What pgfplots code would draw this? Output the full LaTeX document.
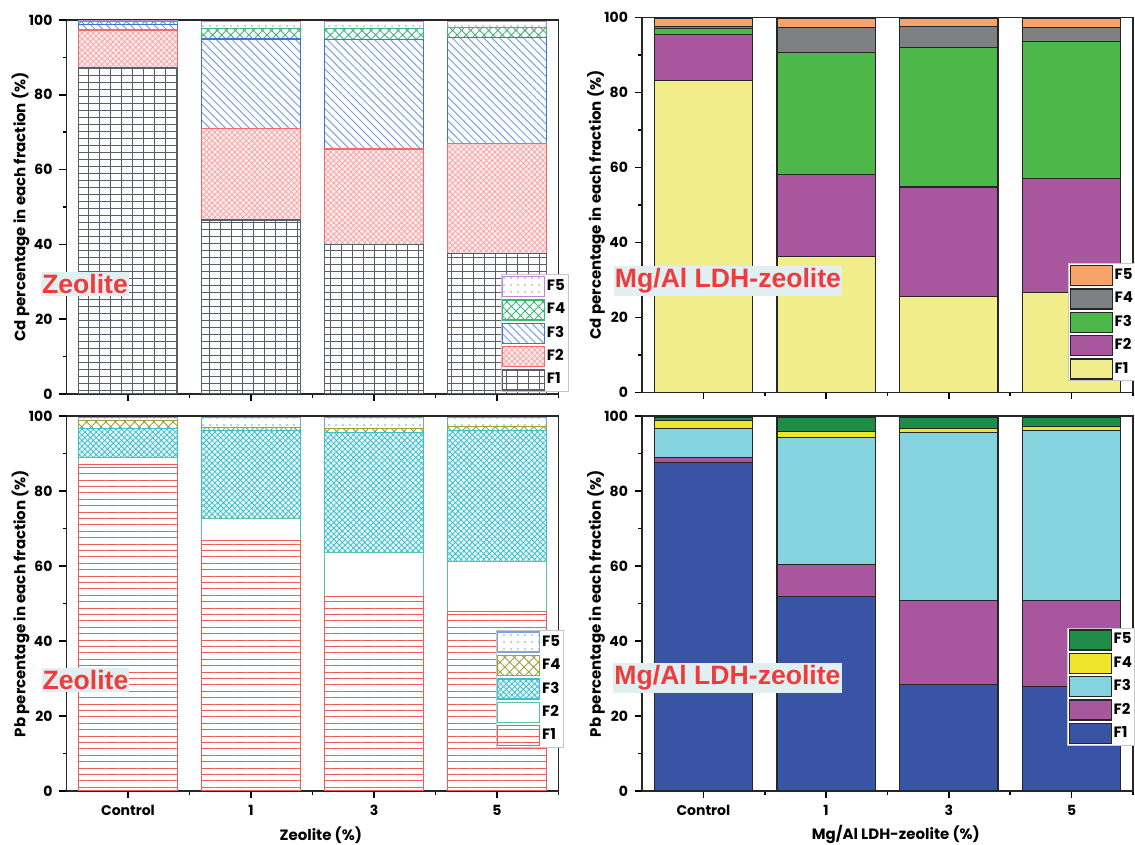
\documentclass[border=0pt]{standalone}
\usepackage{fontspec}
\setmainfont{Poppins}
\newfontfamily\arialb{Liberation Sans}
\usepackage{pgfplots}
\usepackage{pgfplotstable}
\pgfplotsset{compat=1.18}
\usetikzlibrary{patterns,patterns.meta}

\definecolor{zred}{HTML}{EE3B3B}
\definecolor{lblbg}{HTML}{E2EFF1}
\definecolor{tlF1}{HTML}{5A5E68}
\definecolor{tlF2}{HTML}{F06A6A}
\definecolor{tlF2p}{HTML}{F5A3A3}
\definecolor{tlF3}{HTML}{3F74D4}
\definecolor{tlF3p}{HTML}{7F9FE0}
\definecolor{tlF4}{HTML}{3DB57A}
\definecolor{tlF5}{HTML}{B68AD8}
\definecolor{blF1}{HTML}{F05A5A}
\definecolor{blF2}{HTML}{5CC49A}
\definecolor{blF3}{HTML}{3DBFCB}
\definecolor{blF4}{HTML}{9EA03A}
\definecolor{blF5}{HTML}{78A2E0}
\definecolor{trF1}{HTML}{F1ED8A}
\definecolor{trF2}{HTML}{A8579F}
\definecolor{trF3}{HTML}{4EB74A}
\definecolor{trF4}{HTML}{7F8081}
\definecolor{trF5}{HTML}{F6A46C}
\definecolor{brF1}{HTML}{3953A5}
\definecolor{brF2}{HTML}{A8579F}
\definecolor{brF3}{HTML}{86D3E0}
\definecolor{brF4}{HTML}{EDE62B}
\definecolor{brF5}{HTML}{1F8C47}

\pgfdeclarepatternformonly{mygrid}{\pgfqpoint{-0.5pt}{-0.5pt}}{\pgfqpoint{6pt}{4pt}}{\pgfqpoint{5.5pt}{3.5pt}}{%
  \pgfsetlinewidth{0.45pt}%
  \pgfpathmoveto{\pgfqpoint{0pt}{0pt}}\pgfpathlineto{\pgfqpoint{5.5pt}{0pt}}%
  \pgfpathmoveto{\pgfqpoint{0pt}{0pt}}\pgfpathlineto{\pgfqpoint{0pt}{3.5pt}}%
  \pgfusepath{stroke}}

% Cd, zeolite
\pgfplotstableread{
x F1 F2 F3 F4 F5
0 87.2 10.1 1.4 0.8 0.3
1 46.5 24.5 23.9 2.9 1.7
2 40.0 25.5 29.3 3.0 1.7
3 37.6 29.4 28.4 2.6 1.5
}\tl
% Pb, zeolite
\pgfplotstableread{
x F1 F2 F3 F4 F5
0 87.0 1.9 7.7 2.2 0.8
1 66.9 5.8 23.5 0.8 2.6
2 51.8 11.7 32.1 1.0 3.0
3 47.8 13.3 35.0 1.1 2.4
}\bl
% Cd, Mg/Al LDH-zeolite
\pgfplotstableread{
x F1 F2 F3 F4 F5
0 83.3 12.2 1.5 0.5 2.2
1 36.3 21.9 32.4 6.7 2.4
2 25.5 29.3 37.2 5.5 2.2
3 26.7 30.4 36.5 3.7 2.4
}\tr
% Pb, Mg/Al LDH-zeolite
\pgfplotstableread{
x F1 F2 F3 F4 F5
0 87.6 1.4 7.6 2.2 0.8
1 51.8 8.6 33.9 1.6 3.7
2 28.5 22.4 44.6 1.1 3.0
3 27.8 22.9 45.4 1.1 2.4
}\br

\pgfplotsset{
 panel/.style={
  scale only axis, ybar stacked, bar width=0.8,
  xmin=-0.5, xmax=3.5, ymin=0, ymax=100,
  xtick={0,1,2,3}, minor xtick={0.5,1.5,2.5,3.5},
  ytick={0,20,...,100}, minor ytick={10,30,50,70,90},
  tick align=outside, xtick pos=bottom, ytick pos=left,
  major tick length=3.5pt, minor tick length=2pt,
  every tick/.style={black,line width=0.8pt},
  axis line style={line width=0.9pt, black!85},
  tick label style={font=\fontsize{7}{8}\selectfont\bfseries},
  label style={font=\fontsize{7.5}{9}\selectfont\bfseries},
  /pgf/number format/assume math mode=true,
  ylabel style={at={(axis description cs:-0.0935,0.5)},anchor=center},
  xlabel style={at={(axis description cs:0.517,-0.117)},anchor=center},
  legend image code/.code={\draw[##1,line width=0.7pt] (0pt,-5pt) rectangle (21pt,5pt);},
  reverse legend,
  legend cell align=left,
  legend style={draw=gray!45, fill=white, font=\fontsize{7.5}{9}\selectfont\bfseries, inner sep=0.5pt, row sep=1pt, nodes={inner sep=0.8pt}},
 },
 solidbar/.style={draw=black!85, line width=0.6pt, fill=#1},
}

\begin{document}
\begin{tikzpicture}
\useasboundingbox (0pt,0pt) rectangle (567.5pt,422.5pt);
\clip (0pt,0pt) rectangle (567.5pt,422.5pt);

% ---------- top-left ----------
\begin{axis}[panel, at={(33.25pt,225.5pt)}, anchor=south west, width=246pt, height=187pt,
  xticklabels={}, ylabel={Cd percentage in each fraction (\%)},
  legend style={at={(1.02,0.005)},anchor=south east}]
\addplot[draw=tlF1, line width=0.6pt, fill=white, postaction={pattern=mygrid, pattern color=tlF1}] table[x=x,y=F1]{\tl};
\addplot[draw=tlF2, line width=0.6pt, fill=red!8, postaction={pattern={Hatch[angle=45,distance=2pt,line width=0.35pt]}, pattern color=tlF2p}] table[x=x,y=F2]{\tl};
\addplot[draw=tlF3, line width=0.6pt, fill=white, postaction={pattern={Lines[angle=-45,distance=2.8pt,line width=0.5pt]}, pattern color=tlF3p}] table[x=x,y=F3]{\tl};
\addplot[draw=tlF4, line width=0.6pt, fill=white, postaction={pattern={Hatch[angle=45,distance=3.2pt,line width=0.45pt]}, pattern color=tlF4}] table[x=x,y=F4]{\tl};
\addplot[draw=tlF5, line width=0.6pt, fill=white, postaction={pattern={Dots[distance=3.5pt,radius=0.4pt]}, pattern color=tlF5}] table[x=x,y=F5]{\tl};
\legend{F1,F2,F3,F4,F5}
\end{axis}

% ---------- bottom-left ----------
\begin{axis}[panel, at={(33.25pt,27pt)}, anchor=south west, width=246pt, height=187.5pt,
  xticklabels={Control,1,3,5}, xlabel={Zeolite (\%)}, ylabel={Pb percentage in each fraction (\%)},
  legend style={at={(1.01,0.115)},anchor=south east}]
\addplot[draw=blF1, line width=0.6pt, fill=white, postaction={pattern={Lines[angle=0,distance=3.2pt,line width=0.5pt]}, pattern color=blF1}] table[x=x,y=F1]{\bl};
\addplot[draw=blF2, line width=0.6pt, fill=white] table[x=x,y=F2]{\bl};
\addplot[draw=blF3, line width=0.6pt, fill=cyan!8, postaction={pattern={Hatch[angle=45,distance=2pt,line width=0.4pt]}, pattern color=blF3}] table[x=x,y=F3]{\bl};
\addplot[draw=blF4, line width=0.6pt, fill=white, postaction={pattern={Hatch[angle=45,distance=3.4pt,line width=0.45pt]}, pattern color=blF4}] table[x=x,y=F4]{\bl};
\addplot[draw=blF5, line width=0.6pt, fill=white, postaction={pattern={Dots[distance=3.5pt,radius=0.4pt]}, pattern color=blF5}] table[x=x,y=F5]{\bl};
\legend{F1,F2,F3,F4,F5}
\end{axis}

% ---------- top-right ----------
\begin{axis}[panel, at={(321pt,226.25pt)}, anchor=south west, width=245.5pt, height=187.5pt,
  xticklabels={}, ylabel={Cd percentage in each fraction (\%)},
  legend style={at={(0.868,0.344)},anchor=north west}]
\addplot[solidbar=trF1] table[x=x,y=F1]{\tr};
\addplot[solidbar=trF2] table[x=x,y=F2]{\tr};
\addplot[solidbar=trF3] table[x=x,y=F3]{\tr};
\addplot[solidbar=trF4] table[x=x,y=F4]{\tr};
\addplot[solidbar=trF5] table[x=x,y=F5]{\tr};
\legend{F1,F2,F3,F4,F5}
\end{axis}

% ---------- bottom-right ----------
\begin{axis}[panel, at={(321pt,27pt)}, anchor=south west, width=245.5pt, height=187.5pt,
  xticklabels={Control,1,3,5}, xlabel={Mg/Al LDH-zeolite (\%)}, ylabel={Pb percentage in each fraction (\%)},
  legend style={at={(0.866,0.435)},anchor=north west}]
\addplot[solidbar=brF1] table[x=x,y=F1]{\br};
\addplot[solidbar=brF2] table[x=x,y=F2]{\br};
\addplot[solidbar=brF3] table[x=x,y=F3]{\br};
\addplot[solidbar=brF4] table[x=x,y=F4]{\br};
\addplot[solidbar=brF5] table[x=x,y=F5]{\br};
\legend{F1,F2,F3,F4,F5}
\end{axis}

% ---------- panel labels ----------
\tikzset{tag/.style={fill=lblbg, text=zred, font=\arialb\bfseries\fontsize{13.3}{14}\selectfont, inner xsep=0.5pt, inner ysep=1.2pt}}
\node[tag] at (42.5pt,280.5pt) {Zeolite};
\node[tag] at (42.75pt,82.5pt) {Zeolite};
\node[tag] at (364pt,282pt) {Mg/Al LDH-zeolite};
\node[tag] at (363.75pt,83.5pt) {Mg/Al LDH-zeolite};
\end{tikzpicture}
\end{document}
